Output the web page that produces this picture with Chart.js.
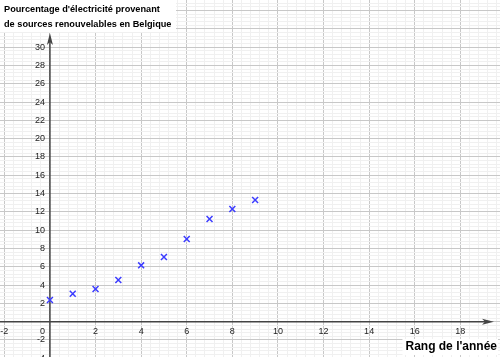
<!DOCTYPE html>
<html><head><meta charset="utf-8">
<script src="https://cdn.jsdelivr.net/npm/chart.js@4"></script>
<style>html,body{margin:0;padding:0;background:#fff;overflow:hidden}canvas{display:block}</style>
</head><body>
<canvas id="c" width="500" height="357"></canvas>
<script>
const rangs = [0, 1, 2, 3, 4, 5, 6, 7, 8, 9];
const pourcentages = [2.37, 3.06, 3.57, 4.56, 6.16, 7.07, 9.04, 11.22, 12.32, 13.3];
const xTickLabels = [-2, 2, 4, 6, 8, 10, 12, 14, 16, 18];
const yTickLabels = [-4, -2, 2, 4, 6, 8, 10, 12, 14, 16, 18, 20, 22, 24, 26, 28, 30, 32];
const originLabel = '0';
const titleLines = ["Pourcentage d'électricité provenant", "de sources renouvelables en Belgique"];
const xAxisTitle = "Rang de l'année";

const isMajor = v => Math.abs(v / 2 - Math.round(v / 2)) < 1e-6;

const geoPlugin = {
  id: 'geoAxes',
  beforeDatasetsDraw(chart) {
    const {ctx, scales: {x, y}, chartArea} = chart;
    const x0 = x.getPixelForValue(0), y0 = y.getPixelForValue(0);
    ctx.save();
    ctx.strokeStyle = '#444'; ctx.fillStyle = '#444'; ctx.lineWidth = 1.5;
    const xTip = chartArea.right - 6, yTip = chartArea.top + 33;
    ctx.beginPath(); ctx.moveTo(chartArea.left, y0); ctx.lineTo(xTip - 6, y0); ctx.stroke();
    ctx.beginPath(); ctx.moveTo(xTip, y0); ctx.lineTo(xTip - 12, y0 - 3); ctx.lineTo(xTip - 9, y0); ctx.lineTo(xTip - 12, y0 + 3); ctx.closePath(); ctx.fill();
    ctx.beginPath(); ctx.moveTo(x0, chartArea.bottom); ctx.lineTo(x0, yTip + 6); ctx.stroke();
    ctx.beginPath(); ctx.moveTo(x0, yTip); ctx.lineTo(x0 - 3, yTip + 12); ctx.lineTo(x0, yTip + 9); ctx.lineTo(x0 + 3, yTip + 12); ctx.closePath(); ctx.fill();
    ctx.fillStyle = '#222';
    ctx.font = '9px "Liberation Sans", Arial, sans-serif';
    ctx.textBaseline = 'middle';
    ctx.textAlign = 'center';
    xTickLabels.forEach(v => ctx.fillText(String(v), x.getPixelForValue(v), y0 + 9.5));
    ctx.textAlign = 'right';
    yTickLabels.forEach(v => ctx.fillText(String(v), x0 - 5, y.getPixelForValue(v)));
    ctx.fillText(originLabel, x0 - 5, y0 + 9.5);
    ctx.restore();
  },
  afterDraw(chart) {
    const {ctx, chartArea} = chart;
    ctx.save();
    ctx.fillStyle = '#fff';
    ctx.fillRect(0, 0, 176, 32);
    ctx.fillStyle = '#000';
    ctx.font = 'bold 9.2px "Liberation Sans", Arial, sans-serif';
    ctx.textBaseline = 'middle'; ctx.textAlign = 'left';
    ctx.fillText(titleLines[0], 4, 9.5);
    ctx.fillText(titleLines[1], 4, 24.5);
    ctx.font = 'bold 12px "Liberation Sans", Arial, sans-serif';
    const w = ctx.measureText(xAxisTitle).width;
    ctx.fillStyle = '#fff';
    ctx.fillRect(chartArea.right - 4 - w - 2, 339, w + 4, 16);
    ctx.fillStyle = '#000';
    ctx.textAlign = 'right';
    ctx.fillText(xAxisTitle, chartArea.right - 3, 347);
    ctx.restore();
  }
};

new Chart(document.getElementById('c'), {
  type: 'scatter',
  data: {
    datasets: [{
      data: rangs.map((r, i) => ({x: r, y: pourcentages[i]})),
      pointStyle: 'crossRot',
      pointRadius: 4.2,
      borderColor: '#3c3cff',
      backgroundColor: '#3c3cff',
      pointBorderWidth: 1.5
    }]
  },
  options: {
    responsive: false,
    animation: false,
    events: [],
    layout: {padding: 0, autoPadding: false},
    plugins: {legend: {display: false}, tooltip: {enabled: false}},
    scales: {
      x: {
        type: 'linear', min: -2.19, max: 19.74,
        afterFit: s => { s.height = 0; s.paddingLeft = 0; s.paddingRight = 0; },
        ticks: {display: false, stepSize: 0.4, includeBounds: false, padding: 0},
        grid: {drawTicks: false, tickLength: 0, color: c => isMajor(c.tick.value) ? '#c8c8c8' : '#f0f0f0', lineWidth: 1},
        border: {display: false}
      },
      y: {
        type: 'linear', min: -3.86, max: 35.16,
        afterFit: s => { s.width = 0; s.paddingTop = 0; s.paddingBottom = 0; },
        ticks: {display: false, stepSize: 0.4, includeBounds: false, padding: 0},
        grid: {drawTicks: false, tickLength: 0, color: c => isMajor(c.tick.value) ? '#c8c8c8' : '#f0f0f0', lineWidth: 1},
        border: {display: false}
      }
    }
  },
  plugins: [geoPlugin]
});
</script>
</body></html>
